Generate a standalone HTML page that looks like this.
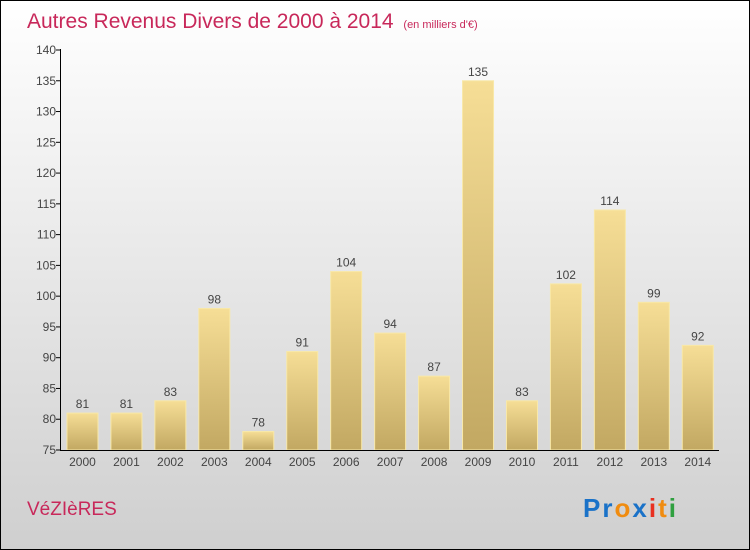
<!DOCTYPE html>
<html><head><meta charset="utf-8"><style>
body{margin:0}
#c{width:750px;height:550px;position:relative;box-sizing:border-box;border:1px solid #000;background:linear-gradient(#ffffff,#cfcfcf);font-family:"Liberation Sans",sans-serif;overflow:hidden}
</style></head><body>
<div id="c">
<svg id="s" width="750" height="550" style="position:absolute;left:-1px;top:-1px">
<defs><linearGradient id="g" x1="0" y1="0" x2="0" y2="1"><stop offset="0" stop-color="#f6de96"/><stop offset="1" stop-color="#c2a862"/></linearGradient></defs>
<text x="27" y="28" font-size="21" fill="#c8285a">Autres Revenus Divers de 2000 à 2014 <tspan font-size="11" dx="4">(en milliers d'€)</tspan></text>
<text x="27" y="515" font-size="19" fill="#c8285a">VéZIèRES</text>
<g font-size="26" font-weight="bold">
<text x="583" y="517" letter-spacing="2"><tspan fill="#1a72c8">Pr</tspan><tspan fill="#f08c10">o</tspan><tspan fill="#1a72c8">x</tspan><tspan fill="#e83020">i</tspan><tspan fill="#f08c10">t</tspan><tspan fill="#30a040">i</tspan></text></g>
<g id="plot"></g>
</svg></div>
<script>
const categories=["2000","2001","2002","2003","2004","2005","2006","2007","2008","2009","2010","2011","2012","2013","2014"];
const values=[81,81,83,98,78,91,104,94,87,135,83,102,114,99,92];
const ticks=[75,80,85,90,95,100,105,110,115,120,125,130,135,140];
const ns="http://www.w3.org/2000/svg";
const p=document.getElementById('plot');
const y=v=>450-(v-75)*400/65;
const x0=60.5,step=43.95,bw=31;
const cx=i=>x0+step*(i+0.5);
function mk(t,a,txt){const e=document.createElementNS(ns,t);for(const k in a)e.setAttribute(k,a[k]);if(txt!==undefined)e.textContent=txt;p.appendChild(e);return e;}
values.forEach((v,i)=>{
 const r=mk('rect',{x:cx(i)-bw/2,y:y(v),width:bw,height:450-y(v),fill:'url(#g)',stroke:'#f8e8a8','stroke-width':1});
 
 
 const t=mk('text',{x:cx(i),y:y(v)-5,'text-anchor':'middle','font-size':12,fill:'#444'},String(v));
 
 
 const l=mk('text',{x:cx(i),y:466,'text-anchor':'middle','font-size':12,fill:'#444'},categories[i]);
 
 
});
ticks.forEach(v=>{
 const l=mk('line',{x1:56,x2:61,y1:y(v),y2:y(v),stroke:'#000'});
 
 
 const t=mk('text',{x:56,y:y(v)+4,'text-anchor':'end','font-size':12,fill:'#444'},String(v));
 
 
});
const ya=mk('line',{x1:60.5,x2:60.5,y1:49,y2:450,stroke:'#000'});


const xa=mk('line',{x1:60,x2:719,y1:450.5,y2:450.5,stroke:'#000'});


</script>
</body></html>
